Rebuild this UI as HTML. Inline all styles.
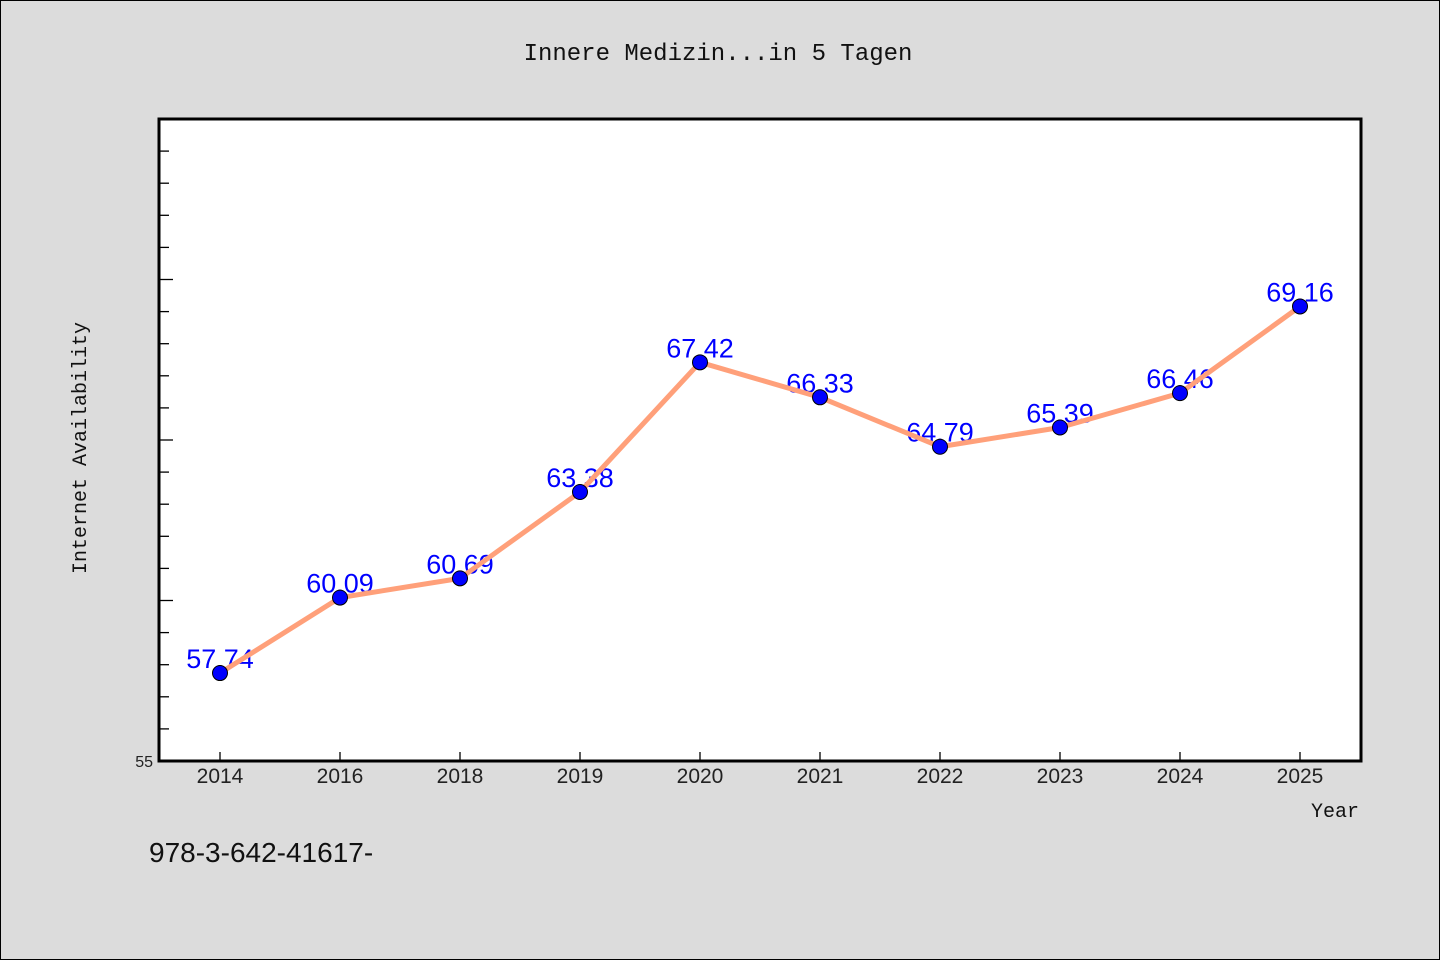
<!DOCTYPE html>
<html><head><meta charset="utf-8"><style>
body{margin:0;background:#dcdcdc;}
svg{display:block}
</style></head><body>
<svg width="1440" height="960" viewBox="0 0 1440 960" id="chart">
<rect x="0.5" y="0.5" width="1439" height="959" fill="#dcdcdc" stroke="#000"/>
<text x="718" y="60" text-anchor="middle" font-family="Liberation Mono, monospace" font-size="24" fill="#111">Innere Medizin...in 5 Tagen</text>
<rect x="159" y="119" width="1202" height="642" fill="#fff"/>
<g id="ticks"></g>
<g id="labels"></g>
<g id="series"></g>
<rect x="159" y="119" width="1202" height="642" fill="none" stroke="#000" stroke-width="3"/>
<text x="153" y="767" text-anchor="end" font-family="Liberation Sans, sans-serif" font-size="16" fill="#222">55</text>
<text x="86" y="448" text-anchor="middle" transform="rotate(-90 86 448)" font-family="Liberation Mono, monospace" font-size="20" fill="#111">Internet Availability</text>
<text x="1359" y="817" text-anchor="end" font-family="Liberation Mono, monospace" font-size="20" fill="#111">Year</text>
<text x="149" y="862" font-family="Liberation Sans, sans-serif" font-size="28" fill="#111">978-3-642-41617-</text>
</svg>
<script>
const categories=["2014","2016","2018","2019","2020","2021","2022","2023","2024","2025"];
const values=[57.74,60.09,60.69,63.38,67.42,66.33,64.79,65.39,66.46,69.16];
const yMin=55,yMax=75;
const NS="http://www.w3.org/2000/svg";
function x(i){return 220+i*120;}
function y(v){return 761-(v-yMin)*(642/(yMax-yMin));}
function mk(tag,attrs,parent){const e=document.createElementNS(NS,tag);for(const k in attrs)e.setAttribute(k,attrs[k]);document.getElementById(parent).appendChild(e);return e;}
for(let v=yMin+1;v<yMax;v++){
  const t=mk('line',{x1:159,x2:(v%5===0)?173:169,y1:y(v),y2:y(v),stroke:'#000','stroke-width':1.3},'ticks');
  
  
}
categories.forEach((c,i)=>{
  const t=mk('line',{x1:x(i),x2:x(i),y1:761,y2:752,stroke:'#000','stroke-width':1.3},'ticks');
  
  
  const l=mk('text',{x:x(i),y:783,'text-anchor':'middle','font-family':'Liberation Sans, sans-serif','font-size':21,fill:'#222'},'ticks');
  l.textContent=c;
  
  
});
values.forEach((v,i)=>{
  const l=mk('text',{x:x(i),y:y(v)-5,'text-anchor':'middle','font-family':'Liberation Sans, sans-serif','font-size':27,fill:'#0000ff'},'labels');
  l.textContent=v.toFixed(2);
  
  
});
const pts=values.map((v,i)=>x(i)+','+y(v)).join(' ');
const line=mk('polyline',{points:pts,fill:'none',stroke:'#ffa07a','stroke-width':5,'stroke-linejoin':'round'},'series');


values.forEach((v,i)=>{
  const c=mk('circle',{cx:x(i),cy:y(v),r:7.5,fill:'#0000ff',stroke:'#000','stroke-width':1},'series');
  
  
});
</script>
</body></html>
